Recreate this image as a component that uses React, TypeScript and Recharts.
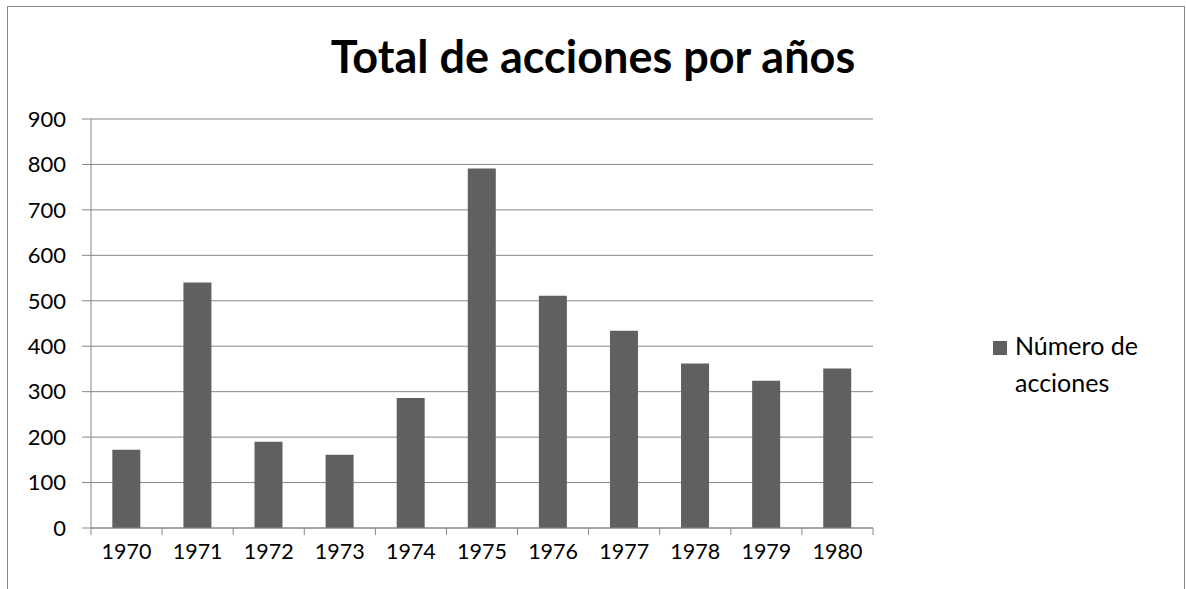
import React from 'react';
import { BarChart, Bar, XAxis, YAxis, CartesianGrid } from 'recharts';

const YEARS = ['1970', '1971', '1972', '1973', '1974', '1975', '1976', '1977', '1978', '1979', '1980'];
const ACCIONES = [172, 540, 190, 161, 286, 791, 511, 434, 362, 324, 351];
const Y_TICKS = [0, 100, 200, 300, 400, 500, 600, 700, 800, 900];

const TITLE = 'Total de acciones por años';
const SERIES_NAME = 'Número de acciones';

const W = 1186;
const H = 589;
const MARGIN = { top: 119, right: 313, bottom: 21, left: 0 };
const Y_AXIS_W = 91;
const PLOT_W = W - MARGIN.left - MARGIN.right - Y_AXIS_W;

const BAR_COLOR = '#606060';
const LINE_COLOR = '#878787';
const FONT = 'Lato, "Open Sans", sans-serif';

const data = YEARS.map((year, i) => ({ year, value: ACCIONES[i] }));

// category axis with tick marks on the band edges, like the spreadsheet
const YearTick = (props: any) => {
    const { x, y, payload, index } = props;
    const step = PLOT_W / YEARS.length;
    return (
        <g>
            <line x1={x - step / 2} x2={x - step / 2} y1={y} y2={y + 7} stroke={LINE_COLOR} />
            {index === YEARS.length - 1 && (
                <line x1={x + step / 2} x2={x + step / 2} y1={y} y2={y + 7} stroke={LINE_COLOR} />
            )}
            <text x={x} y={y + 31} textAnchor="middle" fill="#000" fontSize={21.5} fontFamily={FONT}>
                {payload.value}
            </text>
        </g>
    );
};

export default function App() {
    return (
        <div style={{ position: 'absolute', left: 0, top: 0, width: W, height: H, overflow: 'hidden', background: '#fff' }}>
            <div
                style={{
                    position: 'absolute', left: 7, top: 6, width: 1176, height: 700,
                    border: `1px solid ${LINE_COLOR}`,
                }}
            />
            <div
                style={{
                    position: 'absolute', left: 0, width: W, top: 28, textAlign: 'center',
                    fontFamily: FONT, fontWeight: 700, fontSize: 45, color: '#000', lineHeight: '56px',
                }}
            >
                {TITLE}
            </div>
            <div style={{ position: 'absolute', left: 0, top: 0 }}>
                <BarChart width={W} height={H} data={data} margin={MARGIN} barCategoryGap="30%">
                    <CartesianGrid vertical={false} stroke={LINE_COLOR} />
                    <XAxis
                        dataKey="year"
                        tick={<YearTick />}
                        tickLine={false}
                        tickSize={0}
                        tickMargin={0}
                        height={40}
                        axisLine={{ stroke: LINE_COLOR }}
                        interval={0}
                    />
                    <YAxis
                        width={Y_AXIS_W}
                        domain={[0, 900]}
                        ticks={Y_TICKS}
                        tickSize={9}
                        tickMargin={16}
                        tickLine={{ stroke: LINE_COLOR }}
                        axisLine={{ stroke: LINE_COLOR }}
                        tick={{ fill: '#000', fontSize: 22, fontFamily: FONT }}
                    />
                    <Bar dataKey="value" name={SERIES_NAME} fill={BAR_COLOR} isAnimationActive={false} />
                </BarChart>
            </div>
            <div
                style={{
                    position: 'absolute', left: 993, top: 327, fontFamily: FONT, fontSize: 25,
                    color: '#000', lineHeight: '37px',
                }}
            >
                <span style={{ display: 'inline-block', width: 14, height: 14, background: BAR_COLOR, marginRight: 8 }} />
                Número de
                <div style={{ paddingLeft: 22 }}>acciones</div>
            </div>
        </div>
    );
}
